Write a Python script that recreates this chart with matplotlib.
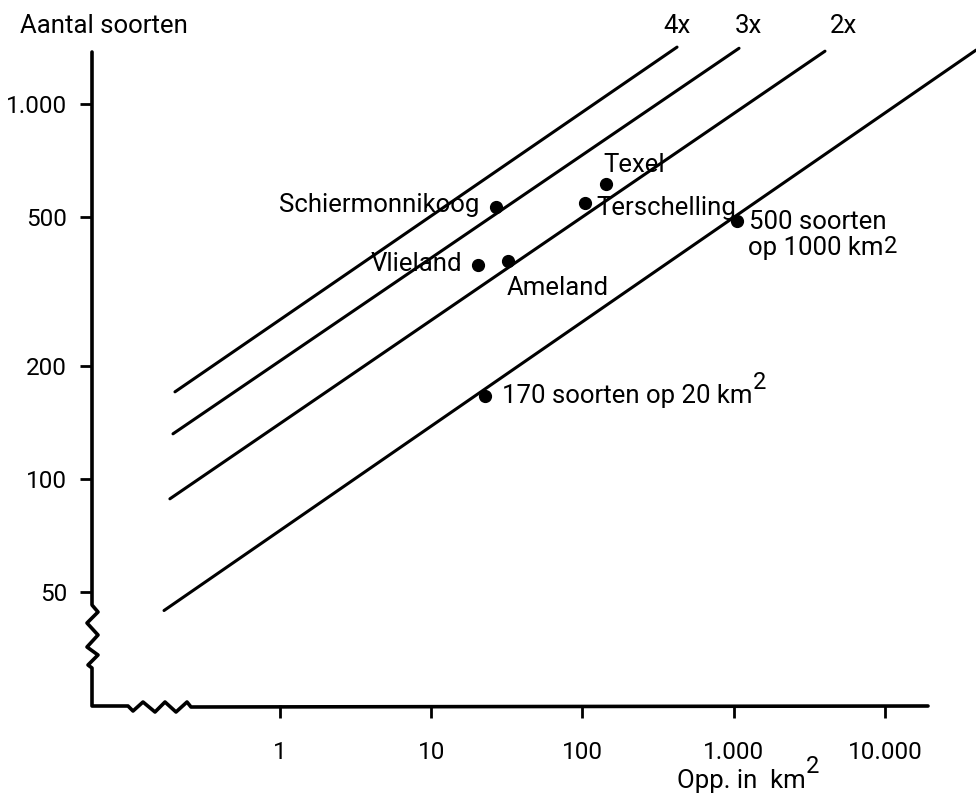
import matplotlib
matplotlib.use('Agg')
import matplotlib.pyplot as plt
from matplotlib.transforms import Affine2D

# ── data ─────────────────────────────────────────────────────────────────────
island_names = ['Schiermonnikoog', 'Texel', 'Terschelling', 'Vlieland', 'Ameland']
island_area  = [26.7, 142.6, 104, 20.3, 32.4]      # km2
island_soort = [532, 611, 543, 371, 381]           # aantal soorten

ref_area  = [1058, 22.7]
ref_soort = [488, 166]

# soorten-oppervlakte lijnen (1x, 2x, 3x, 4x)
line_labels  = ['', '2x', '3x', '4x']
line_x_start = [0.171, 0.187, 0.196, 0.202]
line_y_start = [44.5, 88.4, 131.8, 170.6]
line_x_end   = [40100, 4020, 1086, 422.5]
line_y_end   = [1393, 1384, 1409, 1419]

x_ticks  = [1, 10, 100, 1000, 10000]
x_labels = ['1', '10', '100', '1.000', '10.000']
y_ticks  = [50, 100, 200, 500, 1000]
y_labels = ['50', '100', '200', '500', '1.000']

FONT = 'Roboto'
FS = 18.5      # labels
FS_T = 17.5    # tick labels
plt.rcParams['font.family'] = FONT

W, H = 976, 811
fig = plt.figure(figsize=(W / 100, H / 100), dpi=100)
ax = fig.add_axes([92 / W, (H - 705) / H, (928 - 92) / W, (705 - 52) / H])
ax.set_xscale('log')
ax.set_yscale('log')
ax.set_xlim(0.0571, 19300)
ax.set_ylim(24.9, 1377)

for s in ax.spines.values():
    s.set_visible(False)

# pixel transform (reference coordinates, origin top-left)
px = Affine2D().scale(1 / W, -1 / H).translate(0, 1) + fig.transFigure

# assen met onderbrekingen
ax_x = [92, 92, 98, 87, 98, 87, 98, 88, 92, 92, 128, 133, 143, 155, 165, 176, 187, 191, 928]
ax_y = [52, 605, 612, 623, 635, 647, 655, 665, 668, 706, 706, 711, 702, 712, 702, 712, 702, 707, 706]
fig.add_artist(plt.Line2D(ax_x, ax_y, transform=px, color='black', lw=2.6,
                          solid_joinstyle='round', solid_capstyle='round'))

# lijnen
offsets = [(0, 0), (13, 13), (7, 11), (0, 10)]
for i in range(len(line_labels)):
    ax.plot([line_x_start[i], line_x_end[i]], [line_y_start[i], line_y_end[i]],
            color='black', lw=2.2, solid_capstyle='round', clip_on=False)
    if line_labels[i]:
        ax.annotate(line_labels[i], (line_x_end[i], line_y_end[i]),
                    xytext=offsets[i], textcoords='offset points',
                    ha='center', va='baseline', fontsize=FS, annotation_clip=False)

# punten
ax.plot(island_area, island_soort, 'o', color='black', ms=8.5, clip_on=False)
ax.plot(ref_area, ref_soort, 'o', color='black', ms=8.5, clip_on=False)

txt_off = [(-11.5, -3.8, 'right'), (-2, 9, 'left'), (8.5, -8.5, 'left'),
           (-11, -4.3, 'right'), (-1, -24.5, 'left')]
for name, a, s, (dx, dy, ha) in zip(island_names, island_area, island_soort, txt_off):
    ax.annotate(name, (a, s), xytext=(dx, dy), textcoords='offset points',
                ha=ha, va='baseline', fontsize=FS)


def superscript(t, raise_pt):
    # grote "2" achter km, zoals in het origineel
    ax.annotate('2', xy=(1, 0), xycoords=t, xytext=(0.3, raise_pt),
                textcoords='offset points', ha='left', va='bottom',
                fontsize=FS - 1.5, annotation_clip=False)


ax.annotate('500 soorten', (ref_area[0], ref_soort[0]), xytext=(8.5, -6),
            textcoords='offset points', ha='left', va='baseline', fontsize=FS)
t = ax.annotate('op 1000 km', (ref_area[0], ref_soort[0]), xytext=(8, -24.5),
                textcoords='offset points', ha='left', va='baseline', fontsize=FS)
superscript(t, 1.5)
t = ax.annotate('170 soorten op 20 km', (ref_area[1], ref_soort[1]), xytext=(12, -5),
                textcoords='offset points', ha='left', va='baseline', fontsize=FS)
superscript(t, 10.5)

# ticks
ax.minorticks_off()
ax.set_xticks(x_ticks, labels=x_labels)
ax.set_yticks(y_ticks, labels=y_labels)
ax.tick_params(axis='x', direction='out', length=9, width=2, pad=17, labelsize=FS_T)
ax.tick_params(axis='y', direction='out', length=9, width=2, pad=9, labelsize=FS_T)

fig.text(20, 33, 'Aantal soorten', transform=px, fontsize=FS, va='baseline', ha='left')
t = fig.text(677, 788, 'Opp. in  km', transform=px, fontsize=FS, va='baseline', ha='left')
superscript(t, 10.5)

plt.savefig('out.png', dpi=100)
plt.close()
